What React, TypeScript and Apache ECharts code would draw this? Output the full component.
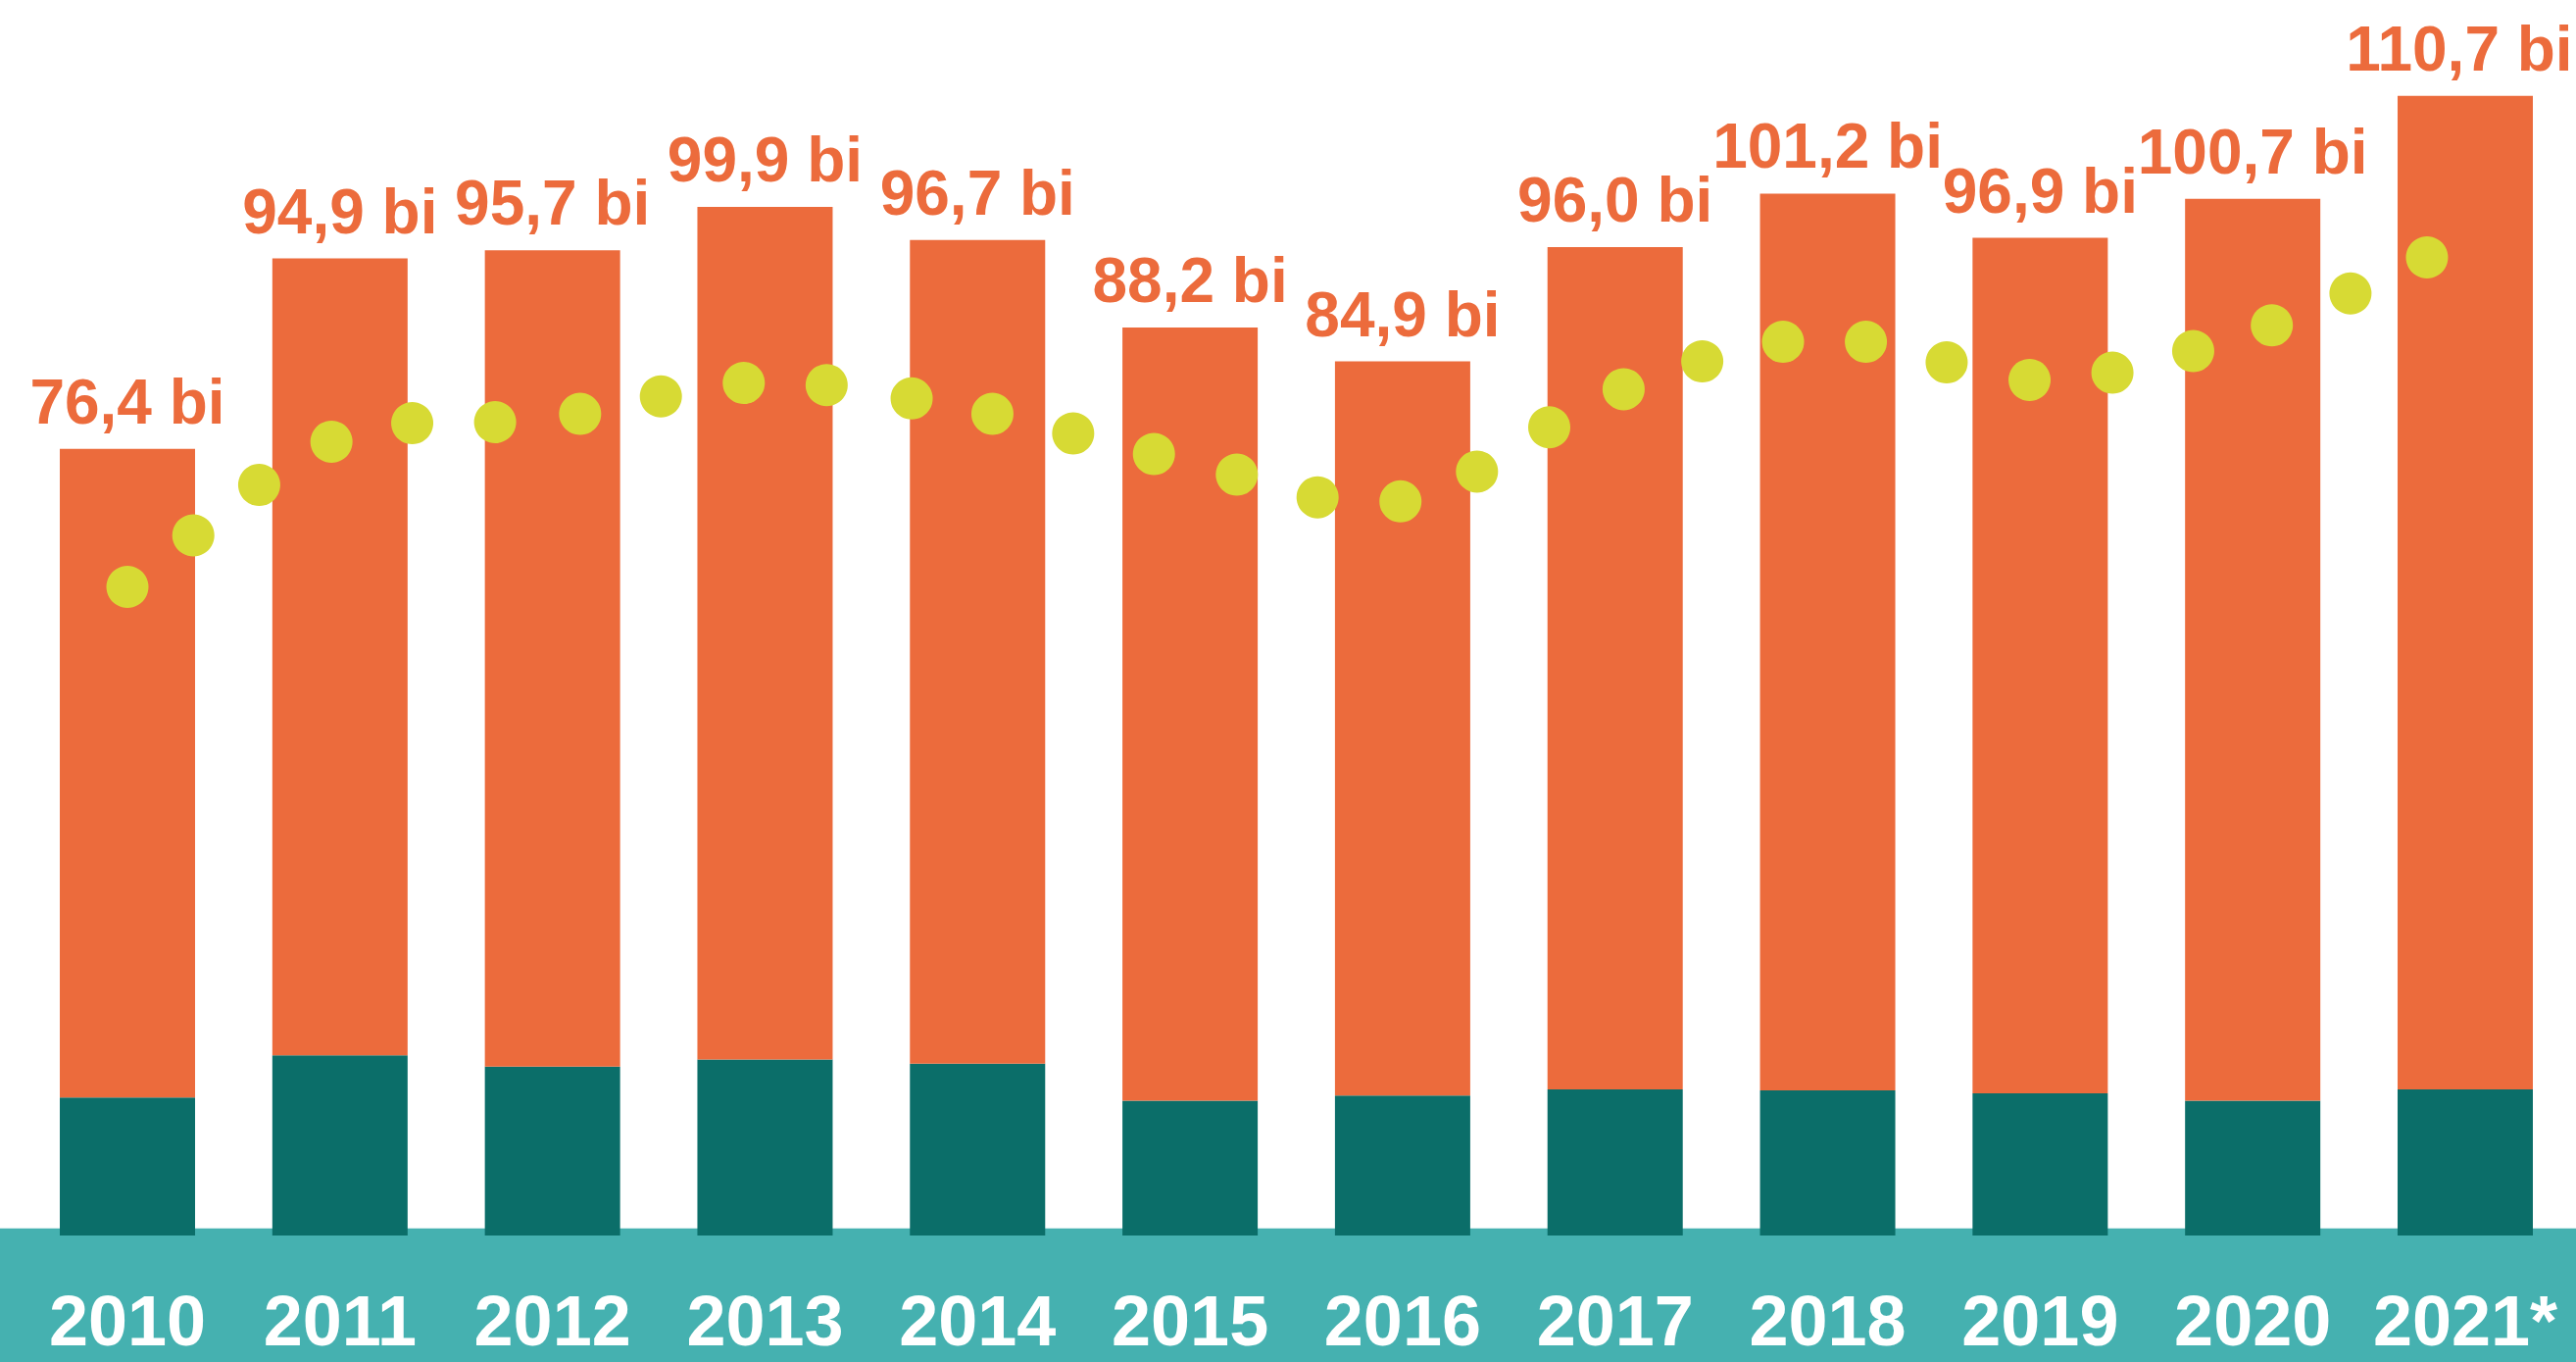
import React, { useEffect, useRef } from "react";
import * as echarts from "echarts";

const years = ["2010", "2011", "2012", "2013", "2014", "2015", "2016", "2017", "2018", "2019", "2020", "2021*"];
const totals = [76.4, 94.9, 95.7, 99.9, 96.7, 88.2, 84.9, 96.0, 101.2, 96.9, 100.7, 110.7];
const tealPart = [13.4, 17.5, 16.4, 17.1, 16.7, 13.1, 13.6, 14.2, 14.1, 13.8, 13.1, 14.2];
const orangePart = [63.0, 77.4, 79.3, 82.8, 80.0, 75.1, 71.3, 81.8, 87.1, 83.1, 87.6, 96.5];

// dot series: position along the year axis (0 = 2010) and value
const dotPos = [0.0, 0.31, 0.62, 0.96, 1.34, 1.73, 2.13, 2.51, 2.9, 3.29, 3.69, 4.07, 4.45, 4.83, 5.22, 5.6, 5.99, 6.35, 6.69, 7.04, 7.41, 7.79, 8.18, 8.56, 8.95, 9.34, 9.72, 10.09, 10.46, 10.82];
const dotVal = [63.0, 68.0, 72.9, 77.1, 78.9, 79.0, 79.8, 81.5, 82.8, 82.6, 81.3, 79.8, 77.9, 75.9, 73.9, 71.7, 71.3, 74.2, 78.5, 82.2, 84.9, 86.8, 86.8, 84.8, 83.1, 83.8, 85.9, 88.4, 91.5, 95.0];

const ORANGE = "#EC6B3C";
const TEAL_DARK = "#0B6E69";
const TEAL_BAND = "#45B1B0";
const DOT = "#D7DA34";
const FONT = "'Liberation Sans', Arial, Helvetica, sans-serif";

export default function App() {
  const ref = useRef<HTMLDivElement>(null);
  useEffect(() => {
    if (!ref.current) return;
    const chart = echarts.init(ref.current, undefined, { renderer: "svg" });
    chart.setOption({
      animation: false,
      backgroundColor: "#ffffff",
      grid: { left: 21.6, right: 4.6, top: 0, bottom: 129, containLabel: false },
      graphic: [
        {
          type: "rect",
          z: 0,
          shape: { x: 0, y: 1252.7, width: 2628, height: 140 },
          style: { fill: TEAL_BAND },
          silent: true,
        },
      ],
      xAxis: [
        {
          type: "category",
          data: years,
          axisLine: { show: false },
          axisTick: { show: false },
          axisLabel: {
            color: "#ffffff",
            fontFamily: FONT,
            fontWeight: "bold",
            fontSize: 72,
            lineHeight: 58,
            margin: 58,
            interval: 0,
          },
        },
        { type: "value", min: -0.5, max: 11.5, show: false },
      ],
      yAxis: { type: "value", min: 0, max: 120, show: false, splitLine: { show: false } },
      series: [
        {
          type: "bar",
          stack: "total",
          data: tealPart,
          barWidth: 138,
          itemStyle: { color: TEAL_DARK },
          z: 3,
        },
        {
          type: "bar",
          stack: "total",
          data: orangePart.map((v, i) =>
            i === orangePart.length - 1 ? { value: v, label: { offset: [-6, 0] } } : v
          ),
          barWidth: 138,
          itemStyle: { color: ORANGE },
          z: 3,
          label: {
            show: true,
            position: "top",
            distance: 16,
            color: ORANGE,
            fontFamily: FONT,
            fontWeight: "bold",
            fontSize: 64,
            lineHeight: 64,
            formatter: (p: any) => totals[p.dataIndex].toFixed(1).replace(".", ",") + " bi",
          },
        },
        {
          type: "scatter",
          xAxisIndex: 1,
          data: dotPos.map((x, i) => [x, dotVal[i]]),
          symbol: "circle",
          symbolSize: 43,
          itemStyle: { color: DOT, opacity: 1 },
          z: 5,
        },
      ],
    });
    return () => chart.dispose();
  }, []);
  return (
    <div
      ref={ref}
      style={{ position: "fixed", left: 0, top: 0, width: 2628, height: 1389 }}
    />
  );
}
